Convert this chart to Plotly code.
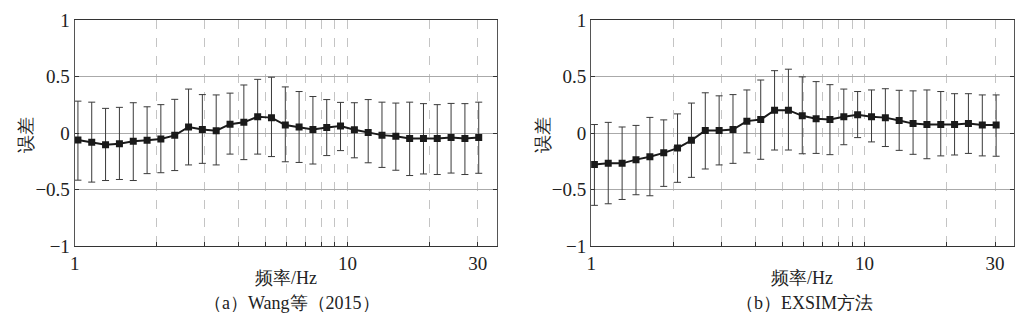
import plotly.graph_objects as go
import math

# Frequencies (Hz) (log-spaced points)
freq = [1.028, 1.155, 1.298, 1.459, 1.640, 1.843, 2.070, 2.327, 2.615, 2.938,
        3.302, 3.711, 4.170, 4.686, 5.265, 5.917, 6.648, 7.470, 8.394, 9.430,
        10.60, 11.91, 13.38, 15.04, 16.90, 18.99, 21.33, 23.97, 26.94, 30.27]

# Panel (a) Wang et al. (2015)
a_mean = [-0.061, -0.080, -0.102, -0.094, -0.072, -0.063, -0.052, -0.019, 0.055, 0.033,
          0.022, 0.080, 0.096, 0.146, 0.138, 0.072, 0.055, 0.033, 0.050, 0.063,
          0.030, 0.006, -0.017, -0.028, -0.047, -0.047, -0.047, -0.039, -0.047, -0.039]
a_upper = [0.284, 0.275, 0.220, 0.229, 0.270, 0.234, 0.253, 0.300, 0.391, 0.342,
           0.339, 0.355, 0.427, 0.477, 0.496, 0.410, 0.369, 0.325, 0.298, 0.273,
           0.270, 0.298, 0.275, 0.267, 0.275, 0.262, 0.253, 0.264, 0.262, 0.275]
a_lower = [-0.416, -0.433, -0.419, -0.410, -0.419, -0.358, -0.350, -0.331, -0.281, -0.267,
           -0.281, -0.185, -0.234, -0.185, -0.207, -0.253, -0.259, -0.273, -0.198, -0.154,
           -0.218, -0.262, -0.303, -0.328, -0.375, -0.361, -0.366, -0.353, -0.366, -0.355]

# Panel (b) EXSIM
b_mean = [-0.278, -0.267, -0.267, -0.234, -0.209, -0.174, -0.132, -0.063, 0.025, 0.025,
          0.033, 0.107, 0.121, 0.204, 0.204, 0.154, 0.129, 0.121, 0.146, 0.163,
          0.146, 0.138, 0.113, 0.085, 0.077, 0.077, 0.077, 0.085, 0.072, 0.072]
b_upper = [0.077, 0.096, 0.055, 0.069, 0.140, 0.118, 0.171, 0.267, 0.358, 0.331,
           0.342, 0.383, 0.471, 0.554, 0.567, 0.499, 0.457, 0.430, 0.391, 0.369,
           0.383, 0.394, 0.380, 0.375, 0.383, 0.369, 0.350, 0.350, 0.339, 0.339]
b_lower = [-0.639, -0.625, -0.587, -0.545, -0.554, -0.471, -0.435, -0.391, -0.317, -0.281,
           -0.267, -0.174, -0.231, -0.149, -0.149, -0.182, -0.179, -0.190, -0.102, -0.039,
           -0.077, -0.118, -0.152, -0.187, -0.226, -0.201, -0.193, -0.179, -0.201, -0.204]

x_tickvals = [1, 2, 3, 4, 5, 6, 7, 8, 9, 10, 20, 30]
x_ticktext = ["1", "", "", "", "", "", "", "", "", "10", "", "30"]
y_tickvals = [-1, -0.5, 0, 0.5, 1]
y_ticktext = ["\u22121", "\u22120.5", "0", "0.5", "1"]

x_title = "频率/Hz"
y_title = "误差"
sub_a = "（a）Wang等（2015）"
sub_b = "（b）EXSIM方法"

SERIF = "Times New Roman, Liberation Serif, DejaVu Serif, serif"
W, H = 1026, 333

fig = go.Figure()

def add_panel(mean, upper, lower, xa, ya):
    plus = [u - m for u, m in zip(upper, mean)]
    minus = [m - l for m, l in zip(mean, lower)]
    fig.add_trace(go.Scatter(
        x=freq, y=mean, mode="lines+markers",
        xaxis=xa, yaxis=ya,
        line=dict(color="#1a1a1a", width=2),
        marker=dict(symbol="square", size=7, color="#1a1a1a"),
        error_y=dict(type="data", symmetric=False, array=plus, arrayminus=minus,
                     color="#3a3a3a", thickness=1, width=3.5),
        showlegend=False,
    ))

add_panel(a_mean, a_upper, a_lower, "x", "y")
add_panel(b_mean, b_upper, b_lower, "x2", "y2")

xr = [0, math.log10(35.2)]

def xaxis_cfg(domain, anchor):
    return dict(domain=domain, anchor=anchor, type="log", range=xr,
                tickmode="array", tickvals=x_tickvals, ticktext=x_ticktext,
                ticks="inside", ticklen=4, tickcolor="#333", tickwidth=1,
                showgrid=True, gridcolor="#c4c4c4", griddash="dash", gridwidth=1,
                showline=True, linecolor="#333", linewidth=1, mirror=True,
                zeroline=False,
                tickfont=dict(family=SERIF, size=19, color="#222"))

def yaxis_cfg(domain, anchor):
    return dict(domain=domain, anchor=anchor, range=[-1, 1],
                tickmode="array", tickvals=y_tickvals, ticktext=y_ticktext,
                ticks="inside", ticklen=4, tickcolor="#333", tickwidth=1,
                showgrid=True, gridcolor="#aaaaaa", gridwidth=1,
                showline=True, linecolor="#555", linewidth=1, mirror="ticks",
                zeroline=False,
                tickfont=dict(family=SERIF, size=19, color="#222"))

ydom = [1 - 252 / H, 1 - 11 / H]
fig.update_layout(
    width=W, height=H,
    margin=dict(l=0, r=0, t=0, b=0),
    paper_bgcolor="white", plot_bgcolor="white",
    font=dict(family=SERIF),
    xaxis=xaxis_cfg([70 / W, 494 / W], "y"),
    yaxis=yaxis_cfg(ydom, "x"),
    xaxis2=xaxis_cfg([589 / W, 1014 / W], "y2"),
    yaxis2=yaxis_cfg(ydom, "x2"),
)

def ann(text, x, y, angle=0):
    fig.add_annotation(text=text, x=x / W, y=1 - y / H, xref="paper", yref="paper",
                       showarrow=False, textangle=angle, xanchor="center", yanchor="middle",
                       font=dict(family=SERIF, size=18, color="#222"))

ann(x_title, 282, 286)
ann(x_title, 801, 286)
ann(sub_a, 288, 313)
ann(sub_b, 803, 313)
ann(y_title, 21, 133, -90)
ann(y_title, 540, 133, -90)

fig.write_html("out.html")
